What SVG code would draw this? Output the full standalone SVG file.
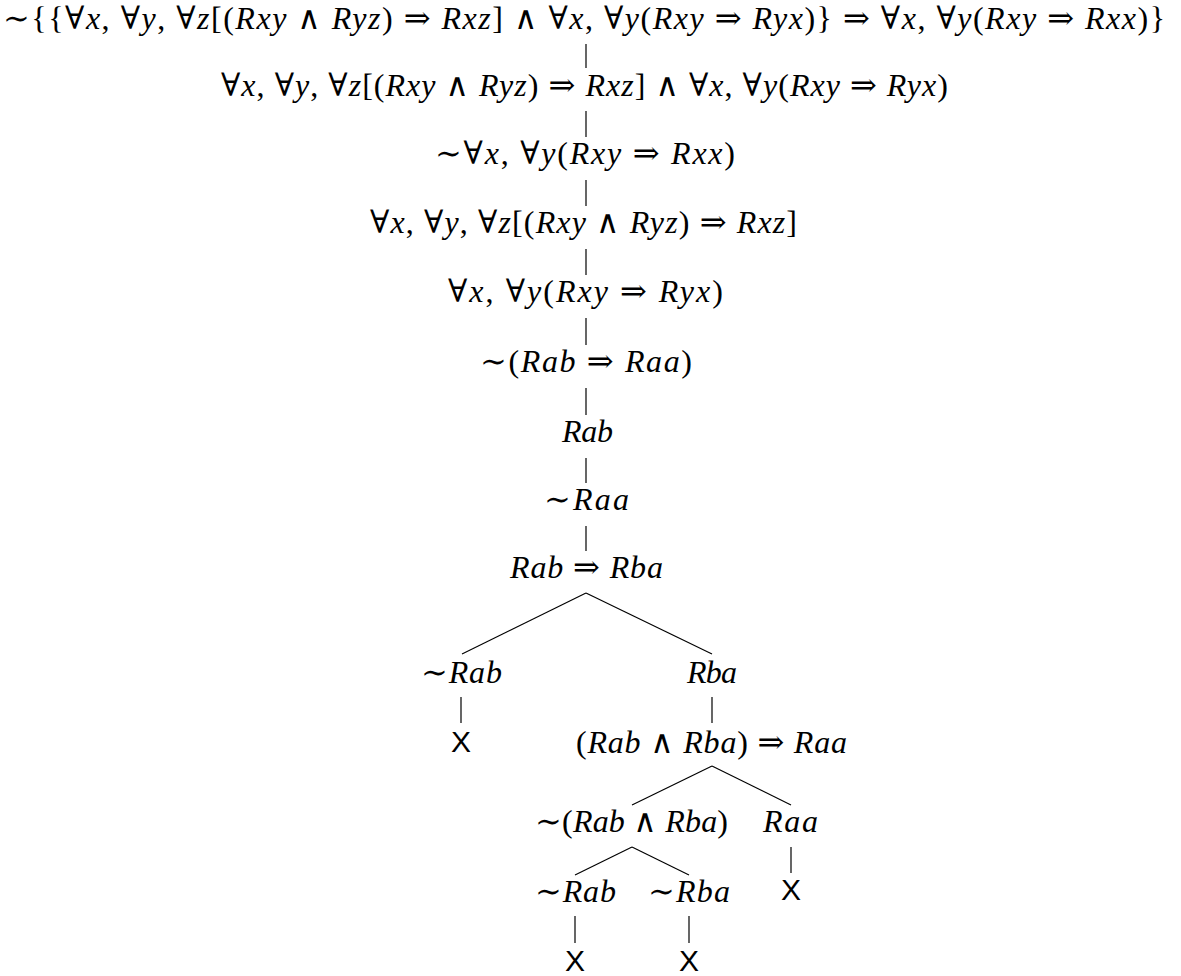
<svg xmlns="http://www.w3.org/2000/svg" width="1181" height="976" viewBox="0 0 1181 976">
<style>
.m{font-family:"Liberation Serif","DejaVu Serif",serif;font-size:32px;fill:#000;text-anchor:middle}
.i{font-style:italic}
.x{font-family:"Liberation Sans",Arial,sans-serif;font-size:30px;fill:#000;text-anchor:middle}
.c line{stroke:#000;stroke-width:1.2;fill:none}
</style>
<rect width="1181" height="976" fill="#fff"/>
<g id="connectors" class="c">
<line x1="586" y1="44" x2="586" y2="68"/>
<line x1="586" y1="111" x2="586" y2="137"/>
<line x1="586" y1="180" x2="586" y2="206"/>
<line x1="586" y1="249" x2="586" y2="275"/>
<line x1="586" y1="318" x2="586" y2="345"/>
<line x1="586" y1="388" x2="586" y2="415"/>
<line x1="586" y1="458" x2="586" y2="483"/>
<line x1="586" y1="526" x2="586" y2="551"/>
<line x1="586" y1="593" x2="462" y2="654"/>
<line x1="586" y1="593" x2="712" y2="654"/>
<line x1="461" y1="697" x2="461" y2="723"/>
<line x1="712" y1="697" x2="712" y2="723"/>
<line x1="712" y1="766" x2="632" y2="805"/>
<line x1="712" y1="766" x2="791" y2="805"/>
<line x1="632" y1="847" x2="575" y2="875"/>
<line x1="632" y1="847" x2="689" y2="875"/>
<line x1="791" y1="847" x2="791" y2="873"/>
<line x1="575" y1="916" x2="575" y2="943"/>
<line x1="689" y1="916" x2="689" y2="943"/>
</g>
<g id="n1"><text class="m" x="584" y="29" textLength="1162" lengthAdjust="spacing">∼{{∀<tspan class="i">x</tspan>, ∀<tspan class="i">y</tspan>, ∀<tspan class="i">z</tspan>[(<tspan class="i">Rxy</tspan> ∧ <tspan class="i">Ryz</tspan>) ⇒ <tspan class="i">Rxz</tspan>] ∧ ∀<tspan class="i">x</tspan>, ∀<tspan class="i">y</tspan>(<tspan class="i">Rxy</tspan> ⇒ <tspan class="i">Ryx</tspan>)} ⇒ ∀<tspan class="i">x</tspan>, ∀<tspan class="i">y</tspan>(<tspan class="i">Rxy</tspan> ⇒ <tspan class="i">Rxx</tspan>)}</text></g>
<g id="n2"><text class="m" x="584.5" y="96" textLength="727" lengthAdjust="spacing">∀<tspan class="i">x</tspan>, ∀<tspan class="i">y</tspan>, ∀<tspan class="i">z</tspan>[(<tspan class="i">Rxy</tspan> ∧ <tspan class="i">Ryz</tspan>) ⇒ <tspan class="i">Rxz</tspan>] ∧ ∀<tspan class="i">x</tspan>, ∀<tspan class="i">y</tspan>(<tspan class="i">Rxy</tspan> ⇒ <tspan class="i">Ryx</tspan>)</text></g>
<g id="n3"><text class="m" x="585" y="164" textLength="300" lengthAdjust="spacing">∼∀<tspan class="i">x</tspan>, ∀<tspan class="i">y</tspan>(<tspan class="i">Rxy</tspan> ⇒ <tspan class="i">Rxx</tspan>)</text></g>
<g id="n4"><text class="m" x="583.5" y="233" textLength="427" lengthAdjust="spacing">∀<tspan class="i">x</tspan>, ∀<tspan class="i">y</tspan>, ∀<tspan class="i">z</tspan>[(<tspan class="i">Rxy</tspan> ∧ <tspan class="i">Ryz</tspan>) ⇒ <tspan class="i">Rxz</tspan>]</text></g>
<g id="n5"><text class="m" x="585.5" y="302" textLength="275" lengthAdjust="spacing">∀<tspan class="i">x</tspan>, ∀<tspan class="i">y</tspan>(<tspan class="i">Rxy</tspan> ⇒ <tspan class="i">Ryx</tspan>)</text></g>
<g id="n6"><text class="m" x="586" y="372" textLength="212" lengthAdjust="spacing">∼(<tspan class="i">Rab</tspan> ⇒ <tspan class="i">Raa</tspan>)</text></g>
<g id="n7"><text class="m i" x="587.5" y="442" textLength="51" lengthAdjust="spacing">Rab</text></g>
<g id="n8"><text class="m" x="586.5" y="510" textLength="85" lengthAdjust="spacing">∼<tspan class="i">Raa</tspan></text></g>
<g id="n9"><text class="m" x="586.5" y="578" textLength="153" lengthAdjust="spacing"><tspan class="i">Rab</tspan> ⇒ <tspan class="i">Rba</tspan></text></g>
<g id="n10"><text class="m" x="461.5" y="683" textLength="81" lengthAdjust="spacing">∼<tspan class="i">Rab</tspan></text></g>
<g id="n11"><text class="m i" x="712" y="683" textLength="50" lengthAdjust="spacing">Rba</text></g>
<g id="n12"><text class="x" x="461" y="752">X</text></g>
<g id="n13"><text class="m" x="711.5" y="753" textLength="271" lengthAdjust="spacing">(<tspan class="i">Rab</tspan> ∧ <tspan class="i">Rba</tspan>) ⇒ <tspan class="i">Raa</tspan></text></g>
<g id="n14"><text class="m" x="631.5" y="832" textLength="193" lengthAdjust="spacing">∼(<tspan class="i">Rab</tspan> ∧ <tspan class="i">Rba</tspan>)</text></g>
<g id="n15"><text class="m i" x="790.5" y="832" textLength="55" lengthAdjust="spacing">Raa</text></g>
<g id="n16"><text class="m" x="575.5" y="902" textLength="81" lengthAdjust="spacing">∼<tspan class="i">Rab</tspan></text></g>
<g id="n17"><text class="m" x="689" y="902" textLength="82" lengthAdjust="spacing">∼<tspan class="i">Rba</tspan></text></g>
<g id="n18"><text class="x" x="791" y="900">X</text></g>
<g id="n19"><text class="x" x="575" y="971">X</text></g>
<g id="n20"><text class="x" x="689" y="971">X</text></g>
</svg>
